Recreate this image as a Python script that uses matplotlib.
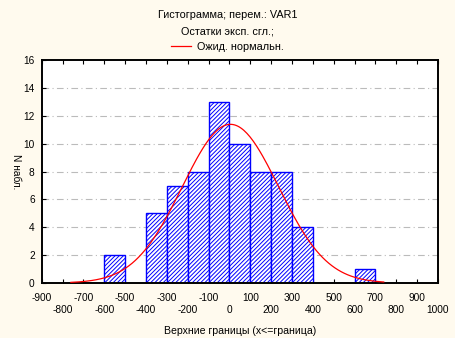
import numpy as np
import matplotlib
matplotlib.use("Agg")
import matplotlib.pyplot as plt
from matplotlib.lines import Line2D

plt.rcParams["font.family"] = ["Liberation Sans", "DejaVu Sans"]
plt.rcParams["hatch.linewidth"] = 0.7

# histogram of residuals: left/right bin edges and counts
bin_left = [-600, -400, -300, -200, -100, 0, 100, 200, 300, 600]
bin_width = 100
counts = [2, 5, 7, 8, 13, 10, 8, 8, 4, 1]

# expected normal curve parameters
norm_mean = 5.0
norm_sd = 231.0
curve_from, curve_to = -760, 740

x_ticks = list(range(-900, 1001, 100))
y_ticks = list(range(0, 17, 2))

bg = "#fffaee"
fig = plt.figure(figsize=(4.55, 3.38), dpi=100, facecolor=bg)
ax = fig.add_axes([0.0916, 0.1627, 0.871, 0.659])
ax.set_facecolor("white")

ax.bar(bin_left, counts, width=bin_width, align="edge", color="white",
       edgecolor="#0000ff", hatch="////////", linewidth=1.0, zorder=2)

n_total = sum(counts)
xs = np.linspace(curve_from, curve_to, 200)
ys = (n_total * bin_width / (norm_sd * np.sqrt(2 * np.pi))
      * np.exp(-0.5 * ((xs - norm_mean) / norm_sd) ** 2))
ax.plot(xs, ys, color="red", linewidth=0.9, zorder=3)

ax.set_xlim(-900, 1000)
ax.set_ylim(0, 16)

# two-row staggered x tick labels
x_labels = [str(v) if i % 2 == 0 else "\n" + str(v) for i, v in enumerate(x_ticks)]
ax.set_xticks(x_ticks)
ax.set_xticklabels(x_labels, fontsize=7.3, linespacing=1.3)
ax.set_yticks(y_ticks)
ax.set_yticklabels([str(v) for v in y_ticks], fontsize=7.3)
ax.tick_params(axis="both", direction="in", length=3, width=0.8,
               top=True, right=False)
ax.tick_params(axis="x", pad=7)
ax.tick_params(axis="y", pad=5)

for y in y_ticks[1:-1]:
    ax.axhline(y, color="#bbbbbb", linestyle=(0, (6, 3, 1, 3)), linewidth=0.8, zorder=1)

for s in ax.spines.values():
    s.set_linewidth(1.4)

ax.set_xlabel("Верхние границы (x<=граница)", fontsize=7.6, labelpad=8)
ax.set_ylabel("N набл.", fontsize=7.3, rotation=-90)
ax.yaxis.set_label_coords(-0.078, 0.5)

fig.text(0.5, 0.955, "Гистограмма; перем.: VAR1", ha="center", va="center", fontsize=7.8)
fig.text(0.5, 0.908, "Остатки эксп. сгл.;", ha="center", va="center", fontsize=7.8)
fig.legend([Line2D([], [], color="red", linewidth=0.9)], ["Ожид. нормальн."],
           loc="center", bbox_to_anchor=(0.5, 0.862), frameon=False, fontsize=7.8,
           handlelength=1.8, handletextpad=0.6)

fig.savefig("out.png", dpi=100, facecolor=bg)
